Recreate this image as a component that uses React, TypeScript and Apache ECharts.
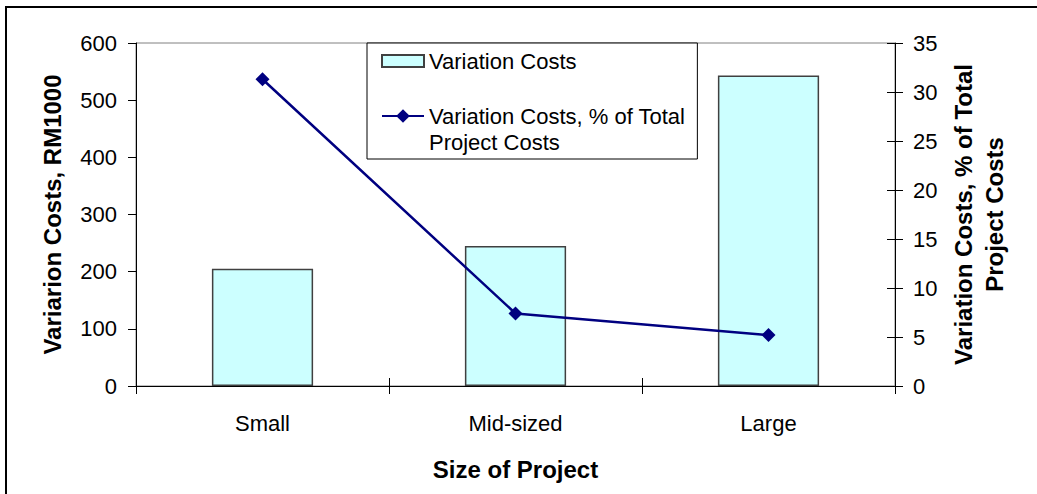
import React, { useEffect, useRef } from "react";
import * as echarts from "echarts";

const categories = ["Small", "Mid-sized", "Large"];
const variationCosts = [205, 245, 543];
const variationPct = [31.3, 7.4, 5.2];
const barName = "Variation Costs";
const lineName = "Variation Costs, % of Total Project Costs";

const FONT = "'Liberation Sans', Arial, sans-serif";

export default function App() {
  const ref = useRef<HTMLDivElement>(null);
  useEffect(() => {
    const chart = echarts.init(ref.current!, null, { renderer: "svg" });
    const tickFont = { fontFamily: FONT, fontSize: 22, color: "#000" };
    const titleFont = { fontFamily: FONT, fontSize: 24, fontWeight: "bold" as const, color: "#000" };
    chart.setOption({
      animation: false,
      backgroundColor: "#fff",
      graphic: [
        {
          type: "rect",
          shape: { x: 6, y: 7, width: 1200, height: 700 },
          style: { fill: "none", stroke: "#000", lineWidth: 2 },
          silent: true,
          z: -1,
        },
      ],
      grid: {
        left: 136,
        right: 142,
        top: 43,
        bottom: 108,
        show: true,
        borderColor: "#808080",
        borderWidth: 1,
        backgroundColor: "transparent",
      },
      legend: {
        orient: "vertical",
        left: 367,
        top: 43,
        padding: [5, 12, 4, 14],
        itemGap: 3,
        itemWidth: 42,
        itemHeight: 17,
        symbolKeepAspect: true,
        backgroundColor: "#fff",
        borderColor: "#000",
        borderWidth: 1,
        borderRadius: 0,
        textStyle: {
          fontFamily: FONT,
          fontSize: 22,
          color: "#000",
          lineHeight: 26,
          rich: {
            a: { fontFamily: FONT, fontSize: 22, color: "#000", lineHeight: 26 },
            e: { fontFamily: FONT, fontSize: 22, color: "#000", lineHeight: 26 },
          },
        },
        formatter: (name: string) =>
          name === lineName
            ? "{e| }\n{a|Variation Costs, % of Total}\n{a|Project Costs}"
            : "{a|" + name + "}",
        data: [
          { name: barName, icon: "path://M0,0L42,0L42,12L0,12Z" },
          { name: lineName },
        ],
      },
      xAxis: [
        {
          type: "category",
          data: categories,
          position: "bottom",
          axisLine: { lineStyle: { color: "#000", width: 1 } },
          axisTick: { show: true, length: 8, lineStyle: { color: "#000" } },
          axisLabel: { ...tickFont, margin: 26 },
          name: "Size of Project",
          nameLocation: "middle",
          nameGap: 71,
          nameTextStyle: titleFont,
        },
        {
          type: "category",
          data: categories,
          position: "bottom",
          axisLine: { show: false },
          axisTick: { show: true, inside: true, length: 8, lineStyle: { color: "#000" } },
          axisLabel: { show: false },
        },
      ],
      yAxis: [
        {
          type: "value",
          min: 0,
          max: 600,
          interval: 100,
          position: "left",
          axisLine: { show: true, lineStyle: { color: "#000", width: 1 } },
          axisTick: { show: true, length: 8, lineStyle: { color: "#000" } },
          axisLabel: { ...tickFont, margin: 19 },
          splitLine: { show: false },
          name: "Variarion Costs, RM1000",
          nameLocation: "middle",
          nameRotate: 90,
          nameGap: 72,
          nameTextStyle: titleFont,
        },
        {
          type: "value",
          min: 0,
          max: 35,
          interval: 5,
          position: "right",
          axisLine: { show: true, lineStyle: { color: "#000", width: 1 } },
          axisTick: { show: true, length: 8, lineStyle: { color: "#000" } },
          axisLabel: { ...tickFont, margin: 18 },
          splitLine: { show: false },
          name: "Variation Costs, % of Total\nProject Costs",
          nameLocation: "middle",
          nameRotate: 90,
          nameGap: 50,
          nameTextStyle: { ...titleFont, lineHeight: 31 },
        },
        {
          type: "value",
          min: 0,
          max: 35,
          interval: 5,
          position: "right",
          axisLine: { show: false },
          axisTick: { show: true, inside: true, length: 8, lineStyle: { color: "#000" } },
          axisLabel: { show: false },
          splitLine: { show: false },
        },
      ],
      series: [
        {
          name: barName,
          type: "bar",
          data: variationCosts,
          xAxisIndex: 0,
          yAxisIndex: 0,
          barWidth: "40%",
          itemStyle: { color: "#CCFFFF", borderColor: "#404040", borderWidth: 1.5 },
        },
        {
          name: lineName,
          type: "line",
          data: variationPct,
          xAxisIndex: 0,
          yAxisIndex: 1,
          symbol: "diamond",
          symbolSize: 14,
          lineStyle: { color: "#000080", width: 2.5 },
          itemStyle: { color: "#000080" },
        },
      ],
    });
    return () => chart.dispose();
  }, []);
  return (
    <div
      ref={ref}
      style={{ position: "absolute", left: 0, top: 0, width: 1037, height: 494 }}
    />
  );
}
